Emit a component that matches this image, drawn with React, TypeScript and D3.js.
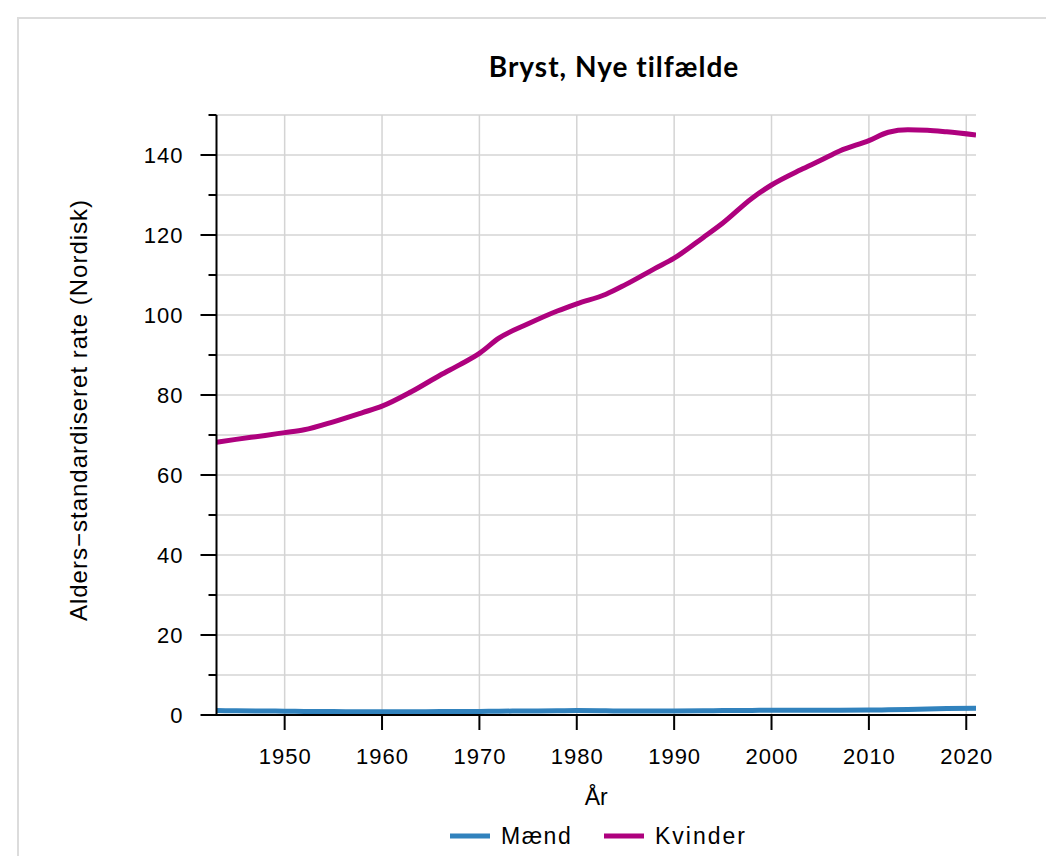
import * as d3 from "d3";
import React, { useRef, useEffect } from "react";

const years = [
  1943, 1945, 1948, 1950, 1952, 1955, 1958, 1960, 1963, 1966, 1968, 1970,
  1972, 1975, 1978, 1980, 1983, 1985, 1988, 1990, 1993, 1995, 1998, 2000,
  2003, 2005, 2007, 2010, 2012, 2014, 2016, 2018, 2021,
];

const kvinder = [
  68.2, 68.9, 69.9, 70.6, 71.3, 73.3, 75.6, 77.2, 80.8, 85.0, 87.6, 90.4,
  94.2, 97.8, 101.0, 102.8, 105.2, 107.6, 111.6, 114.2, 119.4, 123.0, 129.2,
  132.5, 136.3, 138.6, 141.0, 143.6, 145.7, 146.3, 146.2, 145.8, 145.0,
];

const maend = [
  1.1, 1.05, 1.0, 0.95, 0.9, 0.85, 0.8, 0.8, 0.8, 0.85, 0.85, 0.9, 0.95,
  1.0, 1.05, 1.1, 1.05, 1.0, 1.0, 1.0, 1.05, 1.1, 1.15, 1.2, 1.2, 1.2, 1.2,
  1.25, 1.3, 1.4, 1.5, 1.6, 1.7,
];

const seriesNames = ["Mænd", "Kvinder"];
const seriesColors = ["#3182bd", "#ae017e"];
const xTicks = [1950, 1960, 1970, 1980, 1990, 2000, 2010, 2020];
const yMajor = [0, 20, 40, 60, 80, 100, 120, 140];
const yMinor = [10, 30, 50, 70, 90, 110, 130, 150];

const title = "Bryst, Nye tilfælde";
const xTitle = "År";
const yTitle = "Alders\u2212standardiseret rate (Nordisk)";

const font = "'Liberation Sans', Arial, sans-serif";

const Chart = () => {
  const svgRef = useRef(null);

  useEffect(() => {
    const svg = d3.select(svgRef.current);
    svg.selectAll("*").remove();

    const left = 216.5;
    const right = 976;
    const top = 115;
    const bottom = 715;

    const x = d3.scaleLinear().domain([1943, 2021]).range([left, right]);
    const y = d3.scaleLinear().domain([0, 150]).range([bottom, top]);

    // outer frame
    svg
      .append("rect")
      .attr("x", 18)
      .attr("y", 18)
      .attr("width", 1100)
      .attr("height", 900)
      .attr("fill", "#fff")
      .attr("stroke", "#dcdcdc")
      .attr("stroke-width", 2);

    svg
      .append("text")
      .attr("x", 614)
      .attr("y", 77)
      .attr("text-anchor", "middle")
      .style("font-family", "Lato, 'Open Sans', sans-serif")
      .style("font-weight", "bold")
      .style("font-size", "28px")
      .style("letter-spacing", "1px")
      .text(title);

    // grid
    const grid = svg.append("g").attr("stroke", "#d4d4d4").attr("stroke-width", 1.5);
    grid
      .selectAll(".gy")
      .data([...yMajor, ...yMinor].filter((v) => v > 0))
      .join("line")
      .attr("x1", left)
      .attr("x2", right)
      .attr("y1", (d) => y(d))
      .attr("y2", (d) => y(d));
    grid
      .selectAll(".gx")
      .data(xTicks)
      .join("line")
      .attr("x1", (d) => x(d))
      .attr("x2", (d) => x(d))
      .attr("y1", top)
      .attr("y2", bottom);

    // lines
    svg
      .append("clipPath")
      .attr("id", "plotclip")
      .append("rect")
      .attr("x", left)
      .attr("y", top - 10)
      .attr("width", right - left)
      .attr("height", bottom - top + 20);

    const line = d3
      .line<number>()
      .x((_d, i) => x(years[i]))
      .y((d) => y(d))
      .curve(d3.curveMonotoneX);

    [maend, kvinder].forEach((vals, i) => {
      svg
        .append("path")
        .attr("clip-path", "url(#plotclip)")
        .attr("d", line(vals))
        .attr("fill", "none")
        .attr("stroke", seriesColors[i])
        .attr("stroke-width", 5)
        .attr("stroke-linejoin", "round");
    });

    // y axis
    const yAxis = svg.append("g").attr("stroke", "#000").attr("stroke-width", 2);
    yAxis
      .append("line")
      .attr("x1", left)
      .attr("x2", left)
      .attr("y1", top)
      .attr("y2", bottom);
    yAxis
      .selectAll(".maj")
      .data(yMajor)
      .join("line")
      .attr("x1", left - 16)
      .attr("x2", left)
      .attr("y1", (d) => y(d))
      .attr("y2", (d) => y(d));
    yAxis
      .selectAll(".min")
      .data(yMinor)
      .join("line")
      .attr("x1", left - 8)
      .attr("x2", left)
      .attr("y1", (d) => y(d))
      .attr("y2", (d) => y(d));

    svg
      .append("g")
      .selectAll("text")
      .data(yMajor)
      .join("text")
      .attr("x", left - 33)
      .attr("y", (d) => y(d))
      .attr("dy", "0.35em")
      .attr("text-anchor", "end")
      .style("font-family", font)
      .style("font-size", "22px")
      .style("letter-spacing", "1px")
      .text((d) => d);

    // x axis
    const xAxis = svg.append("g").attr("stroke", "#000").attr("stroke-width", 2);
    xAxis
      .append("line")
      .attr("x1", left - 1)
      .attr("x2", right)
      .attr("y1", bottom)
      .attr("y2", bottom);
    xAxis
      .selectAll(".t")
      .data(xTicks)
      .join("line")
      .attr("x1", (d) => x(d))
      .attr("x2", (d) => x(d))
      .attr("y1", bottom)
      .attr("y2", bottom + 15);

    svg
      .append("g")
      .selectAll("text")
      .data(xTicks)
      .join("text")
      .attr("x", (d) => x(d) + 0.5)
      .attr("y", 764)
      .attr("text-anchor", "middle")
      .style("font-family", font)
      .style("font-size", "22px")
      .style("letter-spacing", "1px")
      .text((d) => d);

    svg
      .append("text")
      .attr("x", (left + right) / 2)
      .attr("y", 805)
      .attr("text-anchor", "middle")
      .style("font-family", font)
      .style("font-size", "23px")
      .text(xTitle);

    svg
      .append("text")
      .attr("transform", `translate(87,${(top + bottom) / 2 - 5}) rotate(-90)`)
      .attr("text-anchor", "middle")
      .style("font-family", font)
      .style("font-size", "24px")
      .style("letter-spacing", "1px")
      .text(yTitle);

    // legend
    const legendX = [450, 604];
    const legend = svg
      .append("g")
      .selectAll("g")
      .data(seriesNames)
      .join("g")
      .attr("transform", (_d, i) => `translate(${legendX[i]},836)`);
    legend
      .append("line")
      .attr("x1", 0)
      .attr("x2", 40)
      .attr("stroke", (_d, i) => seriesColors[i])
      .attr("stroke-width", 5);
    legend
      .append("text")
      .attr("x", 51)
      .attr("y", 0)
      .attr("dy", "0.35em")
      .style("font-family", font)
      .style("font-size", "23px")
      .style("letter-spacing", (_d, i) => (i === 0 ? "1.5px" : "2px"))
      .text((d) => d);
  }, []);

  return (
    <svg
      ref={svgRef}
      width={1046}
      height={856}
      style={{ position: "absolute", left: 0, top: 0 }}
    ></svg>
  );
};

export default function App() {
  return <Chart />;
}
